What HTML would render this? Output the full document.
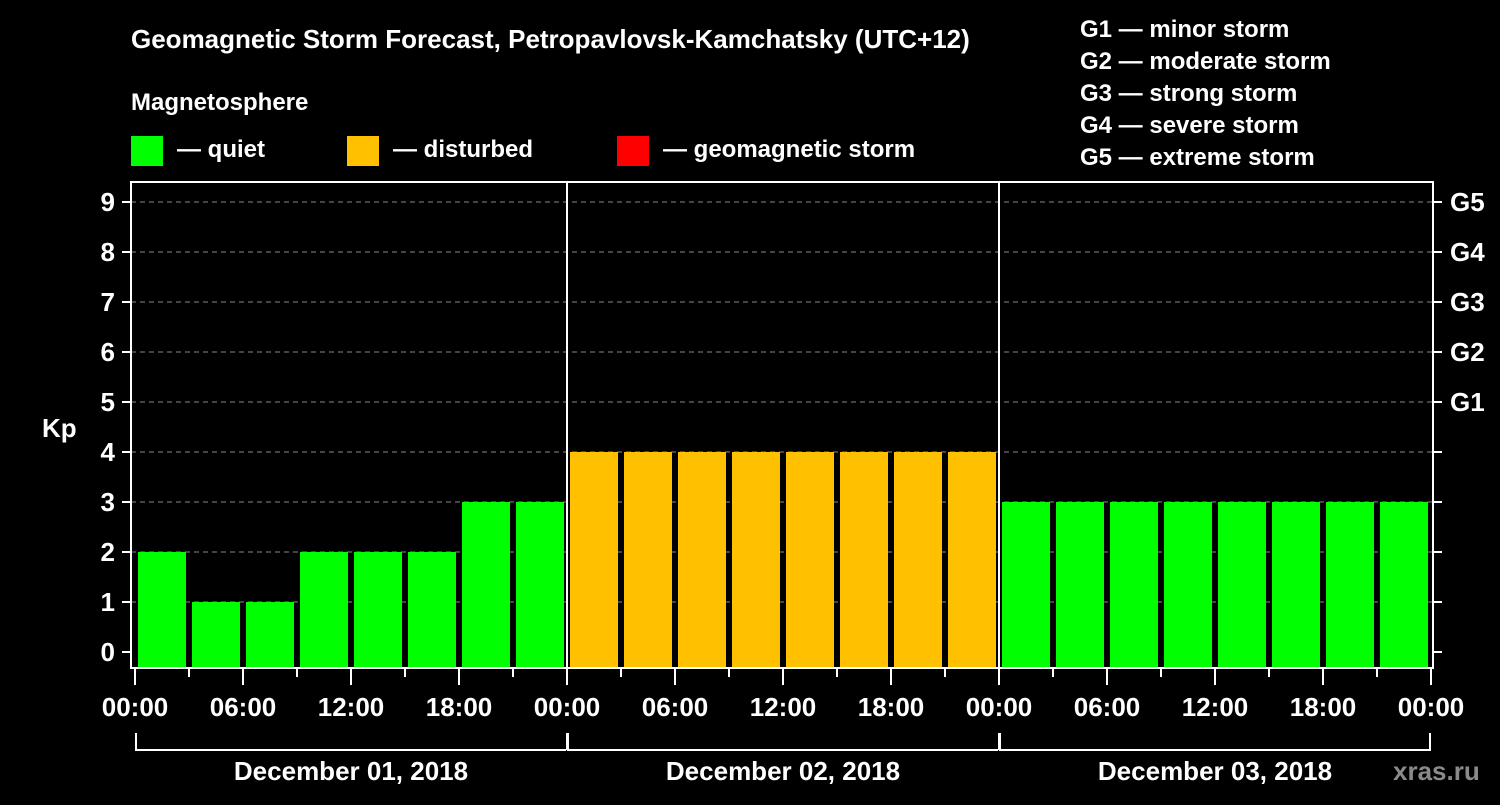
<!DOCTYPE html>
<html><head><meta charset="utf-8"><style>
body{margin:0;background:#000;width:1500px;height:800px;overflow:hidden}
text{font-family:"Liberation Sans",Arial,sans-serif;font-weight:bold;fill:#fff}
</style></head><body>
<svg id="chart" width="1500" height="800" xmlns="http://www.w3.org/2000/svg">
<rect width="1500" height="800" fill="#000"/>
<text x="131" y="48" font-size="26">Geomagnetic Storm Forecast, Petropavlovsk-Kamchatsky (UTC+12)</text>
<text x="131" y="110" font-size="24">Magnetosphere</text>
<g><rect x="131" y="136" width="32" height="30" fill="#00ff00"/><text x="177" y="157" font-size="24">— quiet</text></g>
<g><rect x="347" y="136" width="32" height="30" fill="#ffc000"/><text x="393" y="157" font-size="24">— disturbed</text></g>
<g><rect x="617" y="136" width="32" height="30" fill="#ff0000"/><text x="663" y="157" font-size="24">— geomagnetic storm</text></g>
<g font-size="24">
<text x="1080" y="37">G1 — minor storm</text>
<text x="1080" y="69">G2 — moderate storm</text>
<text x="1080" y="101">G3 — strong storm</text>
<text x="1080" y="133">G4 — severe storm</text>
<text x="1080" y="165">G5 — extreme storm</text>
</g>
<g id="grid"></g>
<g id="bars"></g>
<g id="axes"></g>
<text x="42" y="437" font-size="26">Kp</text>
<text x="1393" y="780" font-size="26" fill="#888" style="fill:#8a8a8a">xras.ru</text>
</svg>
<script>
const kpValues=[2,1,1,2,2,2,3,3, 4,4,4,4,4,4,4,4, 3,3,3,3,3,3,3,3];
const kpStatus=["q","q","q","q","q","q","q","q","d","d","d","d","d","d","d","d","q","q","q","q","q","q","q","q"];
const yTicks=[0,1,2,3,4,5,6,7,8,9];
const gLabels=["G1","G2","G3","G4","G5"];
const gLevels=[5,6,7,8,9];
const dayLabels=["December 01, 2018","December 02, 2018","December 03, 2018"];
const hourLabels=["00:00","06:00","12:00","18:00"];
const NS="http://www.w3.org/2000/svg";
const L=131,R=1433,T=182,B=668,X0=135,DAYW=432;
const y=v=>652-50*v;
const x=h=>X0+h*DAYW/24;
const colors={q:"#00ff00",d:"#ffc000",s:"#ff0000"};
function mk(tag,attrs,parent){const e=document.createElementNS(NS,tag);for(const k in attrs)e.setAttribute(k,attrs[k]);parent.appendChild(e);return e;}
const grid=document.getElementById('grid'),bars=document.getElementById('bars'),axes=document.getElementById('axes');
yTicks.forEach(v=>{
 if(v>0){const g=mk('line',{x1:L,x2:R,y1:y(v),y2:y(v),stroke:'#888','stroke-dasharray':'5,4','stroke-width':1},grid);
 
 }
 mk('line',{x1:122,x2:L,y1:y(v),y2:y(v),stroke:'#fff','stroke-width':2},axes);
 mk('line',{x1:R,x2:1442,y1:y(v),y2:y(v),stroke:'#fff','stroke-width':2},axes);
 const t=mk('text',{x:115,y:y(v)+9,'text-anchor':'end','font-size':26},axes);t.textContent=v;
 
 
});
gLabels.forEach((g,i)=>{const t=mk('text',{x:1450,y:y(gLevels[i])+9,'font-size':26},axes);t.textContent=g;
 
 });
kpValues.forEach((v,i)=>{
 const cx=x(i*3+1.5);
 const r=mk('rect',{x:cx-24,y:y(v),width:48,height:B-y(v)-1,fill:colors[kpStatus[i]]},bars);
 
 
});
mk('rect',{x:L,y:T,width:R-L,height:B-T,fill:'none',stroke:'#fff','stroke-width':2},axes);
[1,2].forEach(d=>mk('line',{x1:x(24*d),x2:x(24*d),y1:T,y2:B,stroke:'#fff','stroke-width':2},axes));
for(let h=0;h<=72;h+=3){
 const maj=h%6===0;
 mk('line',{x1:x(h),x2:x(h),y1:B,y2:B+(maj?17:9),stroke:'#fff','stroke-width':2},axes);
 if(maj){const t=mk('text',{x:x(h),y:716,'text-anchor':'middle','font-size':26},axes);t.textContent=hourLabels[(h%24)/6];
 
 }
}
dayLabels.forEach((d,i)=>{
 const a=x(24*i),b=x(24*(i+1));
 mk('path',{d:`M${a+1} 733V750H${b-1}`+(i===2?'V733':''),fill:'none',stroke:'#fff','stroke-width':2},axes);
 if(i>0)mk('line',{x1:a,x2:a,y1:733,y2:750,stroke:'#fff','stroke-width':2},axes);
 const t=mk('text',{x:(a+b)/2,y:780,'text-anchor':'middle','font-size':26},axes);t.textContent=d;
 
 
});
</script>
</body></html>
